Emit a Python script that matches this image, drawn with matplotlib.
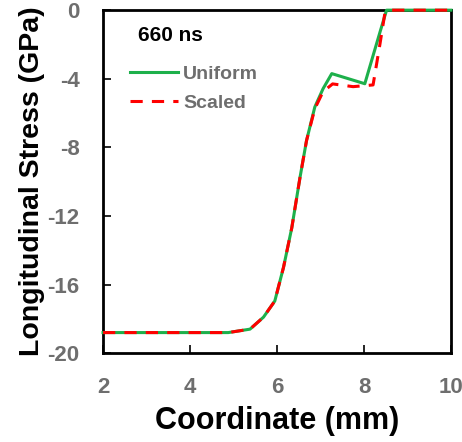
import matplotlib
matplotlib.use("Agg")
import matplotlib.pyplot as plt

# Data
uniform_x = [2.0, 4.88, 5.38, 5.69, 5.95, 6.15, 6.34, 6.53, 6.68, 6.87, 7.06, 7.26, 8.02, 8.37, 8.52, 10.0]
uniform_y = [-18.8, -18.8, -18.6, -17.9, -16.96, -15.0, -12.7, -9.75, -7.6, -5.65, -4.58, -3.7, -4.29, -1.27, 0.0, 0.0]
scaled_x = [2.0, 4.88, 5.38, 5.69, 5.95, 6.15, 6.34, 6.53, 6.68, 6.87, 7.06, 7.28, 7.75, 8.21, 8.37, 8.48, 8.55, 10.0]
scaled_y = [-18.8, -18.8, -18.6, -17.9, -16.96, -15.0, -12.7, -9.75, -7.6, -5.75, -4.75, -4.3, -4.46, -4.36, -1.95, -0.2, 0.0, 0.0]
xticks = [2, 4, 6, 8, 10]
yticks = [0, -4, -8, -12, -16, -20]

plt.rcParams['font.family'] = ['Liberation Sans', 'DejaVu Sans']
fig = plt.figure(figsize=(4.62, 4.42), dpi=100)
ax = fig.add_axes([0.223, 0.201, 0.753, 0.776])

ax.plot(uniform_x, uniform_y, color='#1db04b', lw=2.2, label='Uniform', clip_on=False, zorder=3)
ax.plot(scaled_x, scaled_y, color='#ff0000', lw=2.2, ls=(0, (4, 3)), label='Scaled', clip_on=False, zorder=3.1)

ax.set_xlim(2, 10)
ax.set_ylim(-20, 0)
ax.set_xticks(xticks)
ax.set_yticks(yticks)
ax.set_yticklabels([str(t) for t in yticks])
for s in ax.spines.values():
    s.set_linewidth(2)
ax.tick_params(direction='in', length=6, width=1.2, labelcolor='#6e6e6e')
ax.tick_params(axis='x', labelsize=16, pad=17)
ax.tick_params(axis='y', labelsize=16, pad=17)
for lab in ax.get_xticklabels() + ax.get_yticklabels():
    lab.set_fontweight('bold')

ax.set_xlabel('Coordinate (mm)', fontsize=22, fontweight='bold', labelpad=6)
ax.set_ylabel('Longitudinal Stress (GPa)', fontsize=20.5, fontweight='bold', labelpad=2)

ax.text(0.10, 0.927, '660 ns', transform=ax.transAxes, fontsize=15, fontweight='bold', va='center')
leg = ax.legend(loc='upper left', bbox_to_anchor=(0.078, 0.84), frameon=False, fontsize=14,
                handlelength=2.47, handletextpad=0.26, labelspacing=0.6,
                borderpad=0, borderaxespad=0)
for t in leg.get_texts():
    t.set_color('#6e6e6e')
    t.set_fontweight('bold')

fig.savefig('out.png', dpi=100)
